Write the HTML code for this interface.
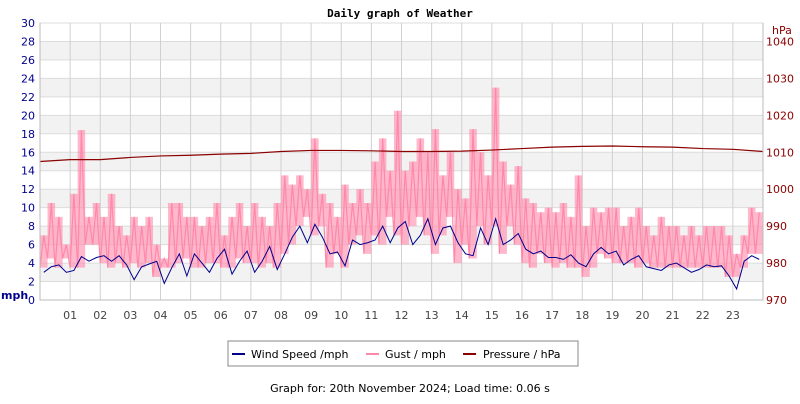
<!DOCTYPE html>
<html><head><meta charset="utf-8"><style>
body{margin:0;background:#fff;width:800px;height:400px;overflow:hidden;font-family:"DejaVu Sans","Liberation Sans",sans-serif}
svg text{font-family:"DejaVu Sans","Liberation Sans",sans-serif}
</style></head><body>
<svg id="c" width="800" height="400" xmlns="http://www.w3.org/2000/svg">
<text x="400" y="17" text-anchor="middle" font-size="11" font-weight="bold" style="font-family:'DejaVu Sans Mono','Liberation Mono',monospace">Daily graph of Weather</text>
<g id="bands"></g><g id="grid"></g><g id="series"></g><g id="axes"></g>
<g>
<rect x="228" y="341" width="350" height="25" fill="#fff" stroke="#888"/>
<line x1="232" y1="354" x2="245" y2="354" stroke="#00008b" stroke-width="2"/>
<text x="251" y="358" font-size="11">Wind Speed /mph</text>
<line x1="366" y1="354" x2="379" y2="354" stroke="#ff88aa" stroke-width="2"/>
<text x="385" y="358" font-size="11">Gust / mph</text>
<line x1="463" y1="354" x2="476" y2="354" stroke="#8b0000" stroke-width="2"/>
<text x="483" y="358" font-size="11">Pressure / hPa</text>
</g>
<text x="410" y="392" text-anchor="middle" font-size="11">Graph for: 20th November 2024; Load time: 0.06 s</text>
</svg>
<script>
const hourLabels=["01","02","03","04","05","06","07","08","09","10","11","12","13","14","15","16","17","18","19","20","21","22","23"];
const mphTicks=[0,2,4,6,8,10,12,14,16,18,20,22,24,26,28,30];
const hpaTicks=[970,980,990,1000,1010,1020,1030,1040];
const windSpeed=[3.0,3.6,3.8,3.0,3.2,4.7,4.2,4.6,4.8,4.2,4.8,3.8,2.2,3.6,3.9,4.2,1.8,3.5,5.0,2.6,5.0,4.0,3.0,4.5,5.5,2.8,4.2,5.3,3.0,4.2,5.8,3.3,5.0,6.8,8.0,6.2,8.2,6.8,5.0,5.2,3.7,6.5,6.0,6.2,6.5,8.0,6.2,7.8,8.5,6.0,7.0,8.8,6.0,7.8,8.0,6.2,5.0,4.8,7.8,6.0,8.8,6.0,6.5,7.2,5.5,5.0,5.3,4.6,4.6,4.4,4.9,4.0,3.6,5.0,5.7,5.0,5.3,3.8,4.4,4.8,3.6,3.4,3.2,3.8,4.0,3.5,3.0,3.3,3.8,3.6,3.7,2.6,1.2,4.2,4.8,4.4];
const gustLow=[3.5,4.5,3.5,4.5,3.5,3.5,6,6,4,3.5,4,3.5,4,3.5,4,2.5,3.5,3.5,4,4.5,3.5,3.5,4,4,3.5,3.5,4.5,4,4,3.5,4,3.5,5,6,8,9,7,8,3.5,5,3.5,6,7,5,7,6,9,7,6,8,9,7,5,7,9,4,6,4.5,8,6,8,5,8,6,4,3.5,5,4,3.5,4,3.5,3.5,2.5,3.5,5,4.5,4,4,4,3.5,4,3.5,3.5,3.5,3.5,3.5,3.5,3.5,3.5,3.5,3.5,2.5,2.5,3.5,5,5];
const gustHigh=[7,10.5,9,6,11.5,18.4,9,10.5,9,11.5,8,7,9,8,9,6,4.5,10.5,10.5,9,9,8,9,10.5,7,9,10.5,8,10.5,9,8,10.5,13.5,12.5,13.5,12,17.5,11.5,10.5,9,12.5,10.5,12,10.5,15,17.5,14,20.5,14,15,17.5,16,18.5,13.5,16,12,11,18.5,16,13.5,23,15,12.5,14.5,11,10.5,9.5,10,9.5,10.5,9,13.5,8,10,9.5,10,10,8,9,10,8,7,9,8,8,7,8,7,8,8,8,7,5,7,10,9.5];
const pressure=[1007.5,1008.0,1008.0,1008.6,1009.0,1009.2,1009.5,1009.7,1010.2,1010.5,1010.5,1010.4,1010.2,1010.2,1010.3,1010.6,1011.0,1011.4,1011.6,1011.7,1011.5,1011.4,1011.0,1010.8,1010.2];

const NS="http://www.w3.org/2000/svg";
const X0=40,X1=763,Y0=300,Y1=23;
const xOf=h=>X0+(X1-X0)*h/24;
const yOf=v=>Y0-(Y0-Y1)*v/30;
const yP=p=>yOf((p-970)*0.4);
function mk(tag,attrs,parent){const e=document.createElementNS(NS,tag);for(const k in attrs)e.setAttribute(k,attrs[k]);parent.appendChild(e);return e;}
const bands=document.getElementById('bands'),grid=document.getElementById('grid'),ser=document.getElementById('series'),axes=document.getElementById('axes');
for(let v=2;v<28;v+=4){const r=mk('rect',{x:X0,y:yOf(v+2),width:X1-X0,height:yOf(v)-yOf(v+2),fill:'#f2f2f2'},bands);

}
mphTicks.forEach(v=>{const l=mk('line',{x1:X0,x2:X1,y1:yOf(v),y2:yOf(v),stroke:'#dcdcdc'},grid);


const t=mk('text',{x:35,y:yOf(v)+4,'text-anchor':'end','font-size':11,fill:'#00008b'},axes);t.textContent=v;

});
hourLabels.forEach((s,i)=>{const x=xOf(i+1);const l=mk('line',{x1:x,x2:x,y1:Y1,y2:Y0,stroke:'#d0d0d0'},grid);


const t=mk('text',{x:x,y:319,'text-anchor':'middle','font-size':11,fill:'#444'},axes);t.textContent=s;

});
hpaTicks.forEach(p=>{const t=mk('text',{x:766,y:yP(p)+4,'font-size':11,fill:'#8b0000'},axes);t.textContent=p;

});
const ax=mk('path',{d:`M${X0} ${Y1}V${Y0}H${X1}V${Y1}`,fill:'none',stroke:'#bbb'},axes);


const u1=mk('text',{x:1,y:299,'font-size':11,'font-weight':'bold',fill:'#00008b'},axes);u1.textContent='mph';


const u2=mk('text',{x:772,y:34,'font-size':11,fill:'#8b0000'},axes);u2.textContent='hPa';


const n=gustHigh.length,dt=24/n;
const upperPts=[],lowerPts=[];
for(let i=0;i<n;i++){upperPts.push(xOf(i*dt)+','+yOf(gustHigh[i]));upperPts.push(xOf((i+1)*dt)+','+yOf(gustHigh[i]));lowerPts.push(xOf(i*dt)+','+yOf(gustLow[i]));lowerPts.push(xOf((i+1)*dt)+','+yOf(gustLow[i]));}
const band=mk('polygon',{points:upperPts.concat(lowerPts.slice().reverse()).join(' '),fill:'#ff88aa','fill-opacity':0.6,stroke:'none'},ser);


const g=[];
for(let i=0;i<n;i++){g.push([xOf(i*dt),yOf(gustLow[i])]);g.push([xOf(i*dt+dt/2),yOf(gustHigh[i])]);}
const gp=mk('polyline',{points:g.map(p=>p.join(',')).join(' '),fill:'none',stroke:'#ff88aa','stroke-width':1.2},ser);


const ws=mk('polyline',{points:windSpeed.map((v,i)=>xOf((i+0.5)*dt)+','+yOf(v)).join(' '),fill:'none',stroke:'#00008b','stroke-width':1},ser);


const pl=mk('polyline',{points:pressure.map((p,i)=>xOf(i*24/(pressure.length-1))+','+yP(p)).join(' '),fill:'none',stroke:'#8b0000','stroke-width':1.2},ser);


</script>
</body></html>
